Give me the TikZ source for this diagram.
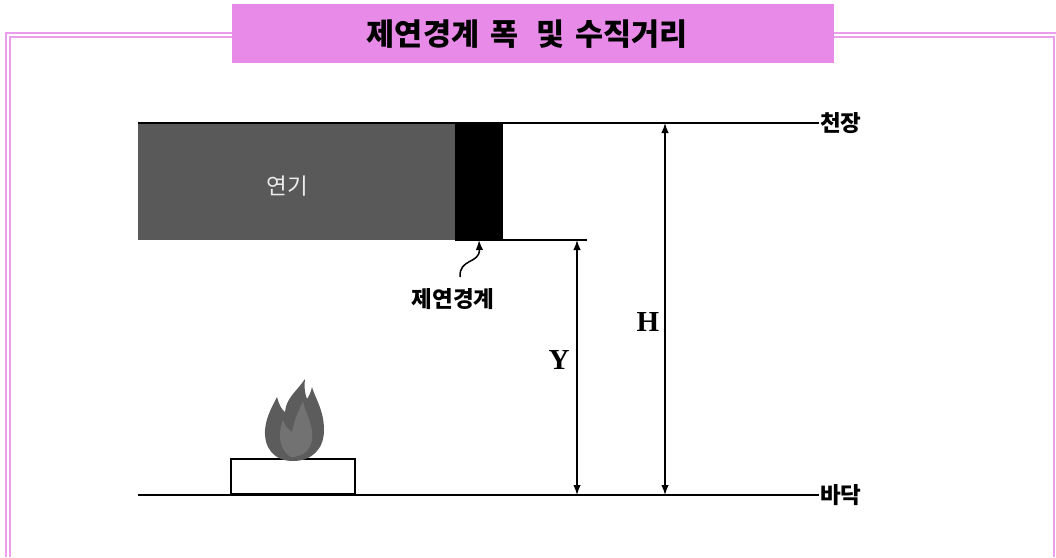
\documentclass[tikz,border=0pt]{standalone}
\usepackage{fontspec}
\setmainfont{Liberation Serif}
\newfontfamily\krfont{Noto Sans CJK KR}
\usetikzlibrary{arrows.meta, positioning}
\definecolor{titlepink}{HTML}{E88BE8}
\definecolor{smokegray}{HTML}{595959}
\definecolor{flamedark}{HTML}{5C5C5C}
\definecolor{flamelight}{HTML}{727272}

\begin{document}
\begin{tikzpicture}[x=1pt, y=-1pt, >={Latex[length=10pt,width=7.5pt]},
    frame/.style={titlepink!85, line width=1.5pt},
    level/.style={line width=2.2pt},
    dim/.style={<->, line width=1.4pt},
    label/.style={font=\krfont\bfseries\fontsize{22.5}{22.5}\selectfont, inner sep=1pt},
    sym/.style={font=\bfseries\fontsize{29}{29}\selectfont, inner sep=0pt},
    layer/.style={anchor=north west, inner sep=0pt, outer sep=0pt, minimum height=117pt}
  ]
  \useasboundingbox (0,0) rectangle (1056,557);

  % double frame
  \draw[frame] (6,557) -- (6,33) -- (1056,33);
  \draw[frame] (10,557) -- (10,37) -- (1054,37) -- (1054,557);

  % title bar
  \node[fill=titlepink, anchor=north west, minimum width=602pt, minimum height=59pt,
        font=\krfont\bfseries\fontsize{30.5}{30.5}\selectfont] (title) at (232,4)
       {\hspace*{-12pt}제연경계\hspace{11pt}폭\hspace{18pt}및\hspace{11pt}수직거리};

  % smoke layer and curtain
  \node[layer, fill=smokegray, minimum width=318pt] (smoke) at (138,123) {};
  \node[layer, fill=black, minimum width=48pt] (curtain) at (455,123) {};
  \node[text=white!92!black, font=\krfont\fontsize{22.5}{22.5}\selectfont] (smoketxt) at (287,186) {연기};

  % ceiling and floor
  \node[label, anchor=west] (ceiling) at (819,123) {천장};
  \node[label, anchor=west] (floor) at (819,495) {바닥};
  \coordinate (floorL) at (138,495);
  \coordinate (layerR) at (587,240);
  \draw[level] (smoke.north west) -- (ceiling.west);
  \draw[level] (floorL) -- (floor.west);
  \draw[line width=1.8pt] (curtain.south west) -- (layerR);

  % heights
  \coordinate (yTop) at (577,240);
  \coordinate (yBot) at (577,495);
  \coordinate (hTop) at (665,123);
  \coordinate (hBot) at (665,495);
  \draw[dim] (yTop) -- (yBot);
  \draw[dim] (hTop) -- (hBot);
  \node[sym] (ylab) at (559,360) {Y};
  \node[sym] (hlab) at (648,322) {H};

  % curtain label
  \node[label] (curtaintxt) at (453,299) {제연경계};
  \coordinate (curlS) at (460,277);
  \draw[->, line width=1.5pt] (curlS) .. controls (459,258) and (480,264) .. (curtain.south);

  % fire tray
  \node[draw, fill=white, line width=2pt, anchor=south west, inner sep=0pt,
        minimum width=124pt, minimum height=35pt] (tray) at (230,495) {};

  % flame
  \fill[flamedark] (293,461)
    .. controls (274,461) and (264,448) .. (265,430)
    .. controls (266,417) and (272,407) .. (277,397)
    .. controls (279,404) and (281,409) .. (285,412)
    .. controls (286,398) and (297,391) .. (305,379)
    .. controls (304,388) and (305,394) .. (307,399)
    .. controls (309,396) and (311,392) .. (312,387)
    .. controls (315,398) and (324,410) .. (324,430)
    .. controls (324,449) and (312,461) .. (293,461) -- cycle;
  \fill[flamelight] (291,457)
    .. controls (280,451) and (277,436) .. (283,420)
    .. controls (286,428) and (289,430) .. (292,432)
    .. controls (294,420) and (299,410) .. (303,401)
    .. controls (305,412) and (314,425) .. (312,440)
    .. controls (310,452) and (301,457) .. (291,457) -- cycle;
\end{tikzpicture}
\end{document}
